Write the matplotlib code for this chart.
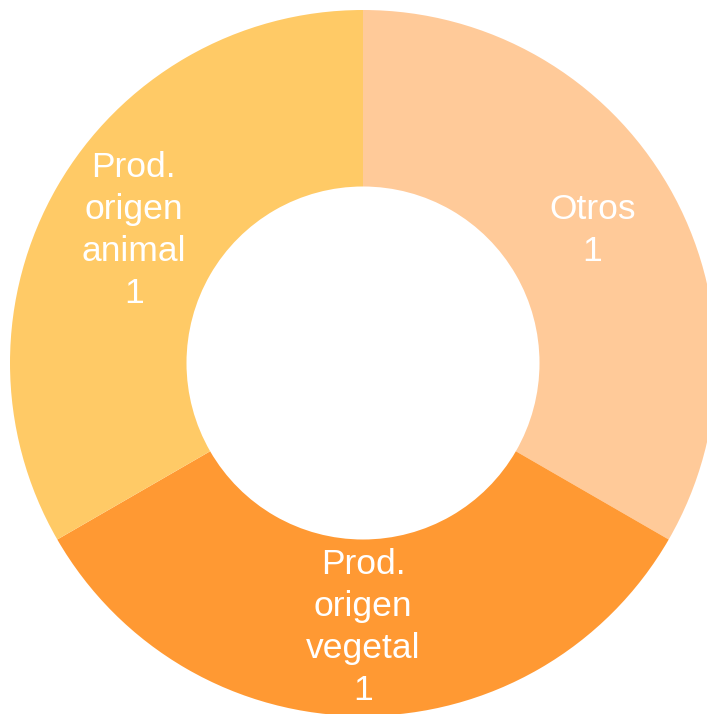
import matplotlib.pyplot as plt

plt.rcParams["font.family"] = ["Liberation Sans", "DejaVu Sans"]

labels = ["Otros", "Prod.\norigen\nvegetal", "Prod.\norigen\nanimal"]
values = [1, 1, 1]
colors = ["#FFCA99", "#FF9933", "#FFCA66"]

W, H, dpi = 707, 714, 100
fig = plt.figure(figsize=(W / dpi, H / dpi), dpi=dpi)

# donut centre at (363, 363) px from top-left, outer radius 353 px
cx, cy, r = 363, 363, 353
ax = fig.add_axes([(cx - r) / W, (H - cy - r) / H, 2 * r / W, 2 * r / H])

wedges, texts = ax.pie(
    values,
    colors=colors,
    startangle=90,
    counterclock=False,
    radius=1,
    wedgeprops=dict(width=0.5, linewidth=0),
    labels=[f"{l}\n{v}" for l, v in zip(labels, values)],
    labeldistance=0.75,
    textprops=dict(color="white", fontsize=25.5, ha="center", va="center",
                   multialignment="center", linespacing=1.34),
)
ax.set_xlim(-1, 1)
ax.set_ylim(-1, 1)
ax.set_aspect("equal")
ax.axis("off")

fig.savefig("out.png", dpi=dpi)
